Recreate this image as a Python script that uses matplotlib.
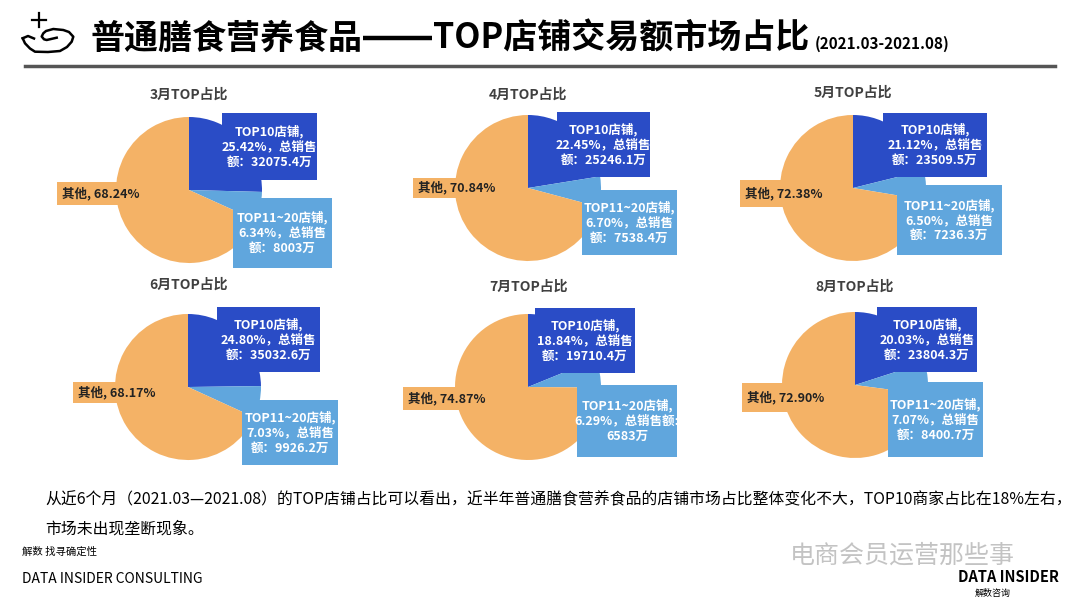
import matplotlib
matplotlib.use("Agg")
import matplotlib.pyplot as plt
from matplotlib.patches import Rectangle

plt.rcParams['font.family'] = ['Noto Sans CJK SC', 'DejaVu Sans']

# data
months = ['3月', '4月', '5月', '6月', '7月', '8月']
top10_share = [25.42, 22.45, 21.12, 24.80, 18.84, 20.03]
top11_20_share = [6.34, 6.70, 6.50, 7.03, 6.29, 7.07]
other_share = [68.24, 70.84, 72.38, 68.17, 74.87, 72.90]
top10_sales = ['32075.4', '25246.1', '23509.5', '35032.6', '19710.4', '23804.3']
top11_20_sales = ['8003', '7538.4', '7236.3', '9926.2', '6583', '8400.7']

C_TOP10 = '#2a4cc6'
C_TOP20 = '#60a6dd'
C_OTHER = '#f4b266'

W, H = 1080, 607

# layout in pixels: pie centre, radius, label boxes relative to centre
centres = [(189, 190), (528, 188), (853, 188), (188, 387), (528, 387), (855, 385)]
title_y = [95, 95, 93, 285, 287, 287]
RADIUS = 73
box_top10 = [(33, -77, 95, 67), (29, -76, 93, 65), (30, -75, 104, 64),
             (29, -80, 103, 65), (7, -79, 100, 65), (22, -78, 100, 65)]
box_top20 = [(44, 8, 99, 70), (54, 2, 95, 65), (44, -3, 105, 70),
             (54, 13, 96, 65), (49, -2, 100, 72), (33, -3, 95, 75)]
box_other = [(-132, -8, 23), (-115, -10, 20), (-113, -8, 27),
             (-115, -5, 21), (-125, 0, 23), (-113, -2, 29)]

fig = plt.figure(figsize=(W / 100, H / 100), dpi=100)
fig.patch.set_facecolor('white')

# pies
for i, m in enumerate(months):
    cx, cy = centres[i]
    r = RADIUS
    ax = fig.add_axes([(cx - r) / W, 1 - (cy + r) / H, 2 * r / W, 2 * r / H])
    ax.pie([top10_share[i], top11_20_share[i], other_share[i]],
           colors=[C_TOP10, C_TOP20, C_OTHER], startangle=90,
           counterclock=False, radius=1)
    ax.set_xlim(-1, 1)
    ax.set_ylim(-1, 1)
    ax.set_aspect('equal')

# overlay in pixel coordinates for titles and labels
ov = fig.add_axes([0, 0, 1, 1])
ov.set_xlim(0, W)
ov.set_ylim(H, 0)
ov.axis('off')
ov.patch.set_alpha(0)

for i, m in enumerate(months):
    cx, cy = centres[i]
    ov.text(cx, title_y[i], f'{m}TOP占比', ha='center', va='center',
            fontsize=10, fontweight='bold', color='#404040')

    x0, y0, bw, bh = box_top10[i]
    ov.add_patch(Rectangle((cx + x0, cy + y0), bw, bh, color=C_TOP10, lw=0))
    ov.text(cx + x0 + bw / 2, cy + y0 + bh / 2,
            f'TOP10店铺,\n{top10_share[i]:.2f}%，总销售\n额：{top10_sales[i]}万',
            ha='center', va='center', fontsize=9, fontweight='bold',
            color='white', linespacing=1.2)

    x0, y0, bw, bh = box_top20[i]
    ov.add_patch(Rectangle((cx + x0, cy + y0), bw, bh, color=C_TOP20, lw=0))
    if m == '7月':
        lbl = f'TOP11~20店铺,\n{top11_20_share[i]:.2f}%，总销售额:\n{top11_20_sales[i]}万'
    else:
        lbl = f'TOP11~20店铺,\n{top11_20_share[i]:.2f}%，总销售\n额：{top11_20_sales[i]}万'
    ov.text(cx + x0 + bw / 2, cy + y0 + bh / 2, lbl,
            ha='center', va='center', fontsize=9, fontweight='bold',
            color='white', linespacing=1.2)

    x0, y0, bh = box_other[i]
    ov.add_patch(Rectangle((cx + x0, cy + y0), -x0 - 20, bh, color=C_OTHER, lw=0))
    ov.text(cx + x0 + 5, cy + y0 + bh / 2, f'其他, {other_share[i]:.2f}%',
            ha='left', va='center', fontsize=9, fontweight='bold', color='#222222')

# header: first part, a solid dash, then the rest
t1 = ov.text(90, 38, '普通膳食营养食品', ha='left', va='center',
             fontsize=24.5, fontweight='heavy', color='black')
fig.canvas.draw()
x_end = t1.get_window_extent().x1 + 1
ov.plot([x_end, 432], [38, 38], color='black', lw=3.2, solid_capstyle='butt')
ov.text(433, 38, 'TOP店铺交易额市场占比', ha='left', va='center',
        fontsize=24.5, fontweight='heavy', color='black')
ov.text(815, 44, '(2021.03-2021.08)', ha='left', va='center',
        fontsize=11, fontweight='bold', color='black')
ov.plot([25, 1055], [66, 66], color='#555555', lw=2.5)

# icon: plus and cupped hand
ov.plot([39, 39], [13, 27], color='black', lw=1.6)
ov.plot([32, 46], [20, 20], color='black', lw=1.6)
hx = [22.7, 25, 30, 35, 48, 60, 67, 71.7, 73.3, 69, 63.3, 53.3, 46, 43.3, 41.7, 44, 46.7, 56.7]
hy = [38.3, 43.3, 48.5, 51.7, 52, 51, 47, 41.7, 36.7, 32, 30, 29, 31, 33.3, 36.5, 39.3, 40, 37.7]
ov.plot(hx, hy, color='black', lw=1.8, solid_joinstyle='round')
ov.plot([22.7, 28, 34], [38.3, 36, 38.5], color='black', lw=1.8)

# footer
ov.text(45, 500, '从近6个月（2021.03—2021.08）的TOP店铺占比可以看出，近半年普通膳食营养食品的店铺市场占比整体变化不大，TOP10商家占比在18%左右，',
        ha='left', va='center', fontsize=11.4, color='black')
ov.text(45, 529, '市场未出现垄断现象。', ha='left', va='center', fontsize=11.4, color='black')
ov.text(22, 552, '解数 找寻确定性', ha='left', va='center', fontsize=7.5, color='black')
ov.text(22, 579, 'DATA INSIDER CONSULTING', ha='left', va='center', fontsize=10, color='black')

ov.text(790, 556, '电商会员运营那些事', ha='left', va='center', fontsize=18,
        color='#b5b5b5', alpha=0.8)
ov.text(1008, 577, 'DATA INSIDER', ha='center', va='center', fontsize=10.5,
        fontweight='bold', color='black')
ov.text(975, 593, '解数咨询', ha='left', va='center', fontsize=6.5, color='black')

fig.savefig('out.png', dpi=100)
